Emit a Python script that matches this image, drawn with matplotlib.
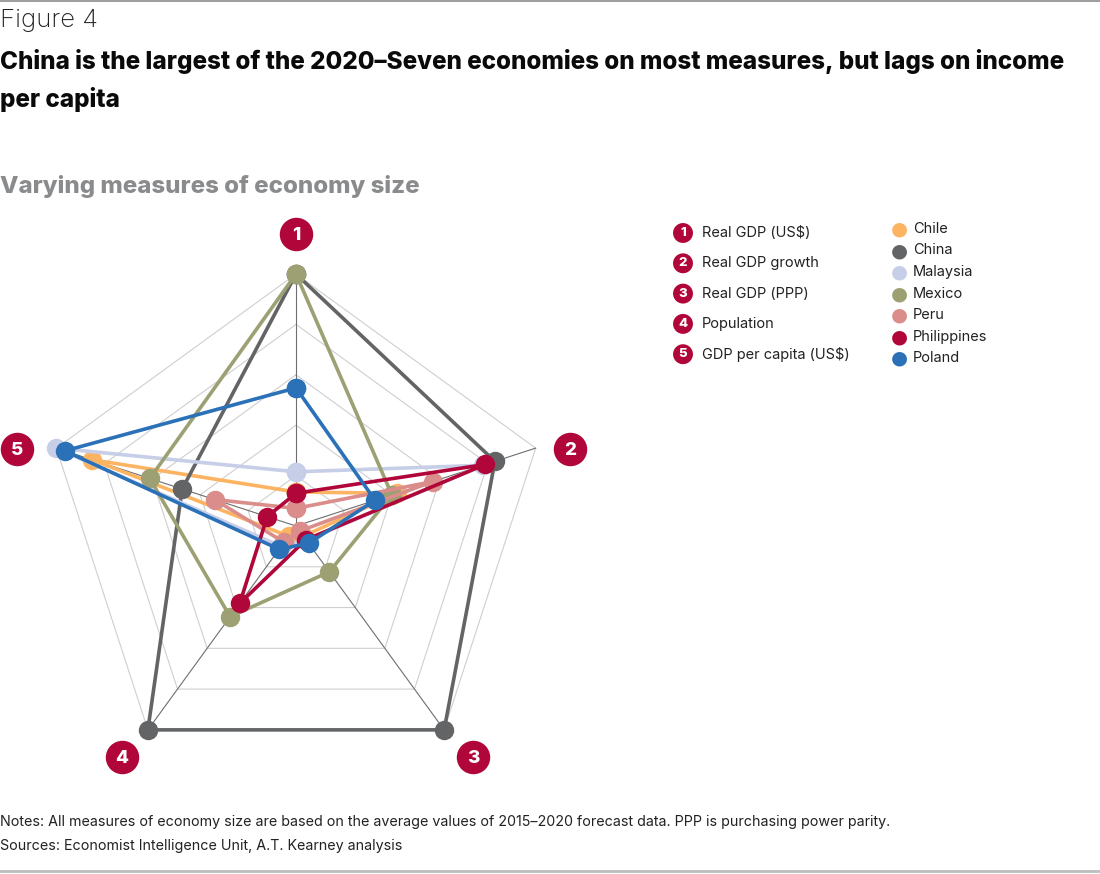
import numpy as np
import matplotlib.pyplot as plt

plt.rcParams['font.family'] = ['Inter', 'DejaVu Sans']

# measures (axes of the radar), clockwise from the top
measures = ['Real GDP (US$)', 'Real GDP growth', 'Real GDP (PPP)',
            'Population', 'GDP per capita (US$)']
countries = ['Chile', 'China', 'Malaysia', 'Mexico', 'Peru', 'Philippines', 'Poland']
colors = ['#FDB462', '#636466', '#C6CEE8', '#9DA073', '#DA8D8A', '#B0063A', '#2A71B8']

# relative size on each measure (0 = centre, 1 = outer ring)
chile = [0.135, 0.42, 0.05, 0.05, 0.85]
china = [1.0, 0.83, 1.0, 1.0, 0.475]
malaysia = [0.215, 0.78, 0.07, 0.10, 1.0]
mexico = [1.0, 0.40, 0.225, 0.445, 0.61]
peru = [0.07, 0.57, 0.025, 0.08, 0.34]
philippines = [0.13, 0.79, 0.067, 0.38, 0.12]
poland = [0.548, 0.33, 0.085, 0.114, 0.965]
values = [chile, china, malaysia, mexico, peru, philippines, poland]

badge_red = '#B0063A'
n = len(measures)
ang = np.pi / 2 - np.arange(n) * 2 * np.pi / n

fig = plt.figure(figsize=(11, 8.74), dpi=100)

# radar axes: centre at (296, 526) px, outer ring radius 252 px
half = 300
lim = half / 252
ax = fig.add_axes([(296 - half) / 1100, (874 - 526 - half) / 874,
                   2 * half / 1100, 2 * half / 874])
ax.set_xlim(-lim, lim)
ax.set_ylim(-lim, lim)
ax.axis('off')

# grid pentagons
for r in [0.2, 0.4, 0.6, 0.8, 1.0]:
    gx = np.append(r * np.cos(ang), r * np.cos(ang[0]))
    gy = np.append(r * np.sin(ang), r * np.sin(ang[0]))
    ax.plot(gx, gy, color='#CFCFCF', lw=0.8, zorder=1)
# spokes
for a in ang:
    ax.plot([0, np.cos(a)], [0, np.sin(a)], color='#6E6E6E', lw=0.8, zorder=1.5)

for vals, c in zip(values, colors):
    v = np.array(vals)
    px = np.append(v * np.cos(ang), v[0] * np.cos(ang[0]))
    py = np.append(v * np.sin(ang), v[0] * np.sin(ang[0]))
    ax.plot(px, py, color=c, lw=2.6, marker='o', markersize=14,
            markeredgewidth=0, zorder=3)

# numbered badges at the axis ends (2 and 5 sit a little lower than the spoke)
badge_x = [0.0, 1.087, 0.702, -0.690, -1.107]
badge_y = [1.159, 0.306, -0.917, -0.917, 0.306]
ax.scatter(badge_x, badge_y, s=580, color=badge_red,
           zorder=4, clip_on=False, linewidths=0)
for i, (bx, by) in enumerate(zip(badge_x, badge_y)):
    ax.text(bx, by - 0.005, str(i + 1), color='white',
            fontsize=13.5, fontweight='heavy', ha='center', va='center', zorder=5)

# titles
fig.text(0.0, 1 - 21 / 874, 'Figure 4', fontsize=18.5, fontweight='light',
         color='#222222', va='center')
fig.text(0.0, 1 - 62 / 874,
         'China is the largest of the 2020\u2013Seven economies on most measures, but lags on income',
         fontsize=17.45, fontweight='heavy', color='#0A0A0A', va='center')
fig.text(0.0, 1 - 100 / 874, 'per capita', fontsize=17.45, fontweight='heavy',
         color='#0A0A0A', va='center')
fig.text(0.0, 1 - 187 / 874, 'Varying measures of economy size', fontsize=17.3,
         fontweight='heavy', color='#8A8B8D', va='center')

# legend of measures
for i, m in enumerate(measures):
    yy = 1 - (233 + i * 30.3) / 874
    fig.text(683 / 1100, yy, str(i + 1), color='white', fontsize=9.5,
             fontweight='heavy', ha='center', va='center',
             bbox=dict(boxstyle='circle,pad=0.3', fc=badge_red, ec='none'))
    fig.text(702 / 1100, yy, m, fontsize=10.5, color='#222222', va='center')

# legend of countries
for i, (name, c) in enumerate(zip(countries, colors)):
    yy = 1 - (229 + i * 21.5) / 874
    fig.text(899 / 1100, yy, '\u25CF', color=c, fontsize=14, ha='center',
             va='center', family='DejaVu Sans')
    fig.text(913 / 1100, yy, name, fontsize=10.5, color='#222222', va='center')

# notes
fig.text(0.0, 1 - 822 / 874,
         'Notes: All measures of economy size are based on the average values of '
         '2015\u20132020 forecast data. PPP is purchasing power parity.',
         fontsize=10.3, color='#222222', va='center')
fig.text(0.0, 1 - 846 / 874, 'Sources: Economist Intelligence Unit, A.T. Kearney analysis',
         fontsize=10.3, color='#222222', va='center')

# rules at top and bottom
fig.add_artist(plt.Line2D([0, 1], [1 - 1 / 874, 1 - 1 / 874], color='#8C8C8C', lw=1.2))
fig.add_artist(plt.Line2D([0, 1], [1 - 871 / 874, 1 - 871 / 874], color='#BDBDBD', lw=2))

fig.savefig('out.png', dpi=100)
